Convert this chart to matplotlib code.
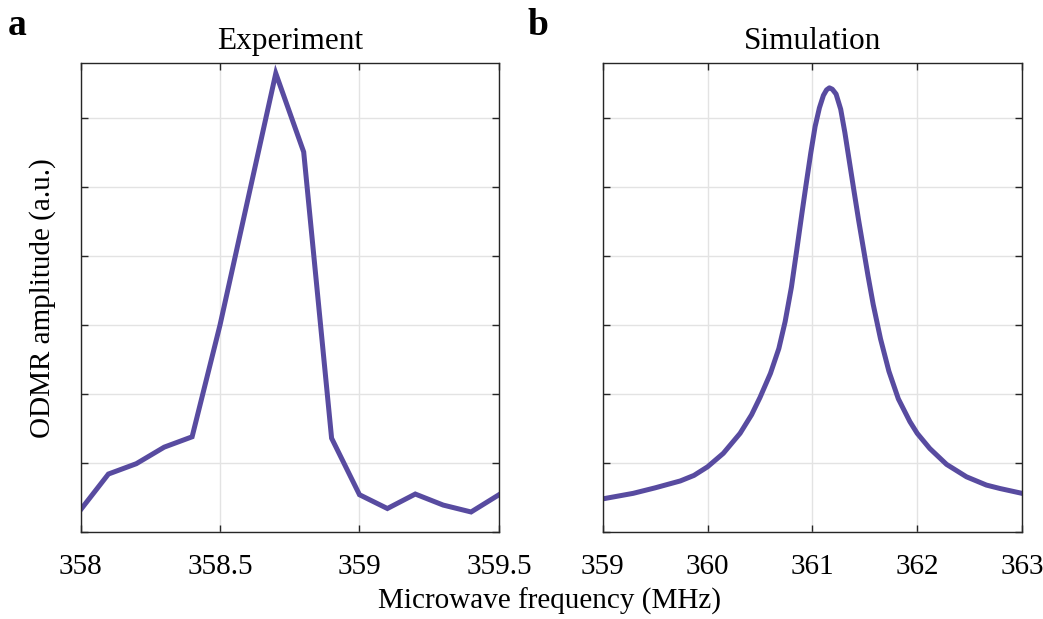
import numpy as np
import matplotlib
matplotlib.use("Agg")
import matplotlib.pyplot as plt

plt.rcParams['font.family'] = ['Liberation Serif', 'DejaVu Serif']

# Experiment (panel a)
exp_freq = [358.0, 358.1, 358.2, 358.3, 358.4, 358.5, 358.7, 358.8, 358.9,
            359.0, 359.1, 359.2, 359.3, 359.4, 359.5]
exp_amp = [0.32, 0.84, 0.99, 1.23, 1.38, 3.0, 6.65, 5.51, 1.36,
           0.54, 0.34, 0.55, 0.39, 0.29, 0.54]

# Simulation (panel b)
sim_freq = [359.0, 359.29, 359.5, 359.74, 359.87, 360.0, 360.15, 360.31, 360.42,
            360.5, 360.6, 360.68, 360.74, 360.8, 360.85, 360.9, 360.94, 360.985,
            361.026, 361.067, 361.105, 361.135, 361.162, 361.19, 361.226, 361.27,
            361.31, 361.35, 361.39, 361.44, 361.49, 361.53, 361.58, 361.65, 361.73,
            361.82, 361.93, 362.0, 362.12, 362.28, 362.47, 362.66, 362.79, 363.0]
sim_amp = [0.48, 0.56, 0.64, 0.74, 0.82, 0.945, 1.14, 1.43, 1.70,
           1.95, 2.30, 2.66, 3.05, 3.55, 4.08, 4.62, 5.04, 5.50,
           5.88, 6.15, 6.33, 6.41, 6.44, 6.42, 6.35, 6.13,
           5.79, 5.40, 5.01, 4.53, 4.08, 3.72, 3.30, 2.80, 2.33,
           1.93, 1.60, 1.43, 1.21, 0.98, 0.80, 0.68, 0.63, 0.56]

exp_ticks = [358, 358.5, 359, 359.5]
exp_labels = ['358', '358.5', '359', '359.5']
sim_ticks = [359, 360, 361, 362, 363]
sim_labels = ['359', '360', '361', '362', '363']
y_ticks = [0, 1, 2, 3, 4, 5, 6]

cor = '#584BA0'

fig = plt.figure(figsize=(10.43, 6.19), dpi=100)
ax1 = fig.add_axes([0.0772, 0.1406, 0.4012, 0.7576])
ax2 = fig.add_axes([0.5779, 0.1406, 0.4020, 0.7576])

paineis = [(ax1, exp_freq, exp_amp, exp_ticks, exp_labels, (358, 359.5), 'Experiment', 'miter'),
           (ax2, sim_freq, sim_amp, sim_ticks, sim_labels, (359, 363), 'Simulation', 'round')]

for ax, fx, fy, tk, tl, lim, titulo, junta in paineis:
    ax.plot(fx, fy, color=cor, linewidth=3.6, solid_joinstyle=junta)
    ax.set_xlim(*lim)
    ax.set_ylim(0, 6.8)
    ax.set_xticks(tk)
    ax.set_xticklabels(tl)
    ax.set_yticks(y_ticks)
    ax.set_yticklabels([])
    ax.grid(True, color='#e3e3e3', linewidth=1.0)
    ax.set_axisbelow(True)
    ax.tick_params(direction='in', length=5, width=1, top=True, right=True,
                   labelsize=21, color='#262626', pad=16)
    for s in ax.spines.values():
        s.set_color('#262626')
        s.set_linewidth(1.0)
    ax.set_title(titulo, fontsize=22.5, pad=10)

fig.text(0.041, 0.519, 'ODMR amplitude (a.u.)', fontsize=21, rotation=90,
         ha='center', va='center')
fig.text(0.527, 0.029, 'Microwave frequency (MHz)', fontsize=21, ha='center', va='center')
fig.text(0.007, 0.958, 'a', fontsize=27, fontweight='bold', va='center')
fig.text(0.506, 0.958, 'b', fontsize=27, fontweight='bold', va='center')

fig.savefig('out.png', dpi=100)
